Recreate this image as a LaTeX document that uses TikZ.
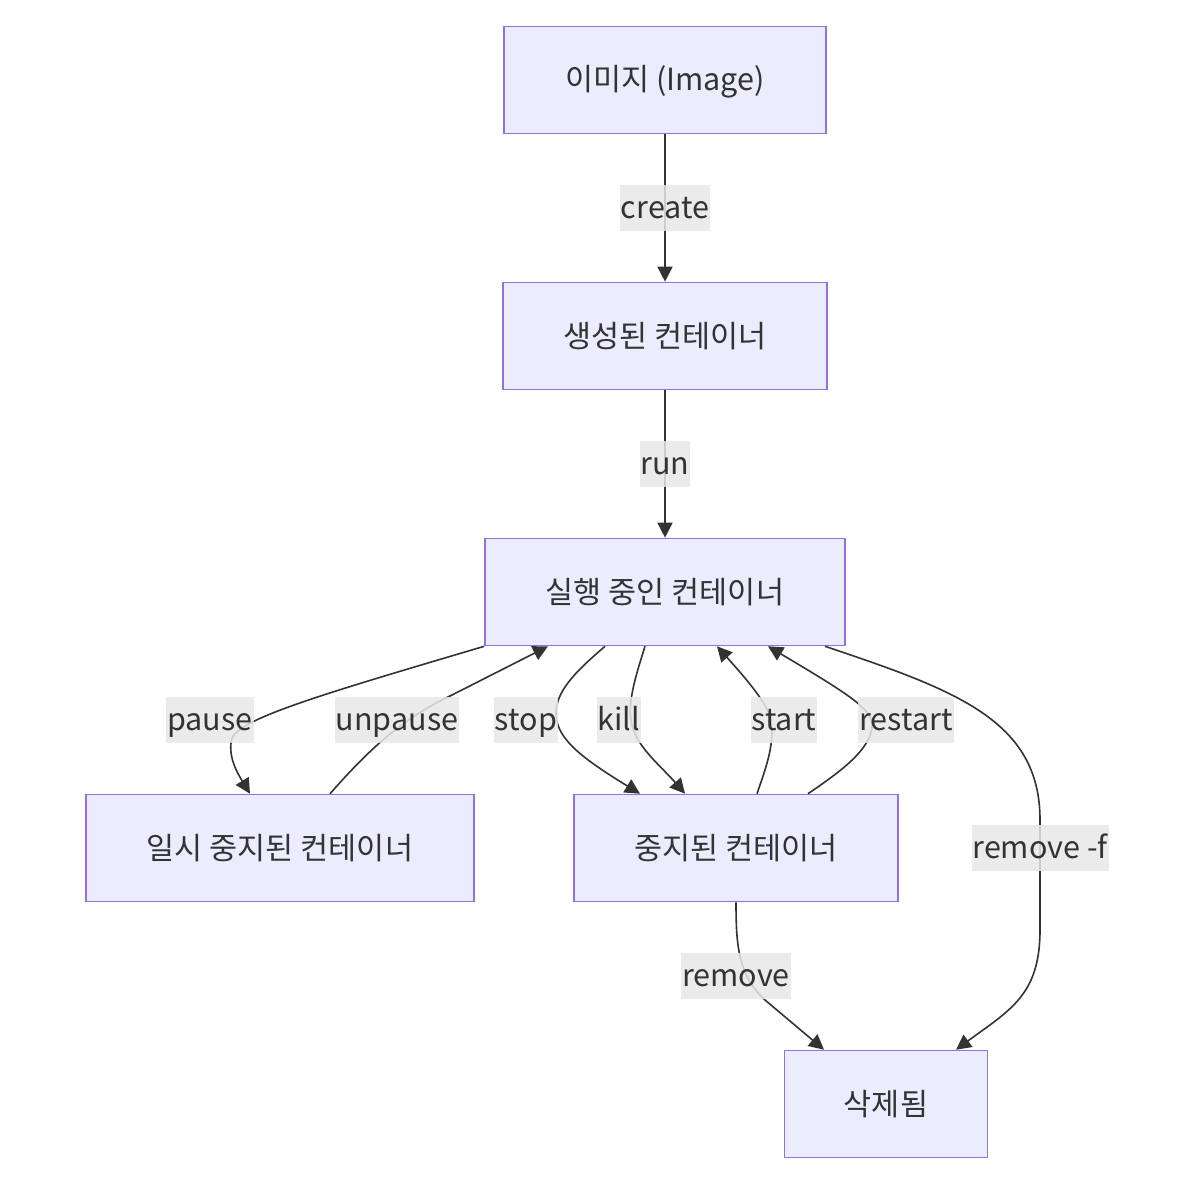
\documentclass[tikz,border=0pt]{standalone}
\usepackage{fontspec}
\setmainfont{Noto Sans CJK KR}
\usetikzlibrary{arrows.meta}
\definecolor{nodefill}{HTML}{ECECFF}
\definecolor{nodeline}{HTML}{9370DB}
\definecolor{edgecol}{HTML}{333333}
\definecolor{lblbg}{HTML}{E8E8E8}
\begin{document}
\begin{tikzpicture}[x=1pt,y=-1pt,
  statebox/.style={draw=nodeline,fill=nodefill,line width=1.6pt,minimum height=107pt,
    text=edgecol,font=\fontsize{30.5}{36}\selectfont,inner sep=0pt,
    text height=26pt,text depth=4pt},
  edge/.style={draw=edgecol,line width=1.6pt,-{Triangle[length=15pt,width=15pt]}},
  lbl/.style={fill=lblbg,fill opacity=0.85,text opacity=1,text=edgecol,
    font=\fontsize{30.5}{36}\selectfont,inner xsep=1pt,inner ysep=0pt,minimum height=46pt,
    text height=24pt,text depth=4pt}]
\useasboundingbox (0,0) rectangle (1196,1196);
\fill[white] (0,0) rectangle (1196,1196);

\node[statebox,minimum width=322pt] (img) at (665,80) {이미지 (Image)};
\node[statebox,minimum width=324pt] (gen) at (665,336) {생성된 컨테이너};
\node[statebox,minimum width=360pt] (run) at (665,592) {실행 중인 컨테이너};
\node[statebox,minimum width=388pt] (paused) at (280,848) {일시 중지된 컨테이너};
\node[statebox,minimum width=324pt] (stopped) at (736,848) {중지된 컨테이너};
\node[statebox,minimum width=203pt] (deleted) at (886,1104) {삭제됨};

% edges
\draw[edge] (img.south) -- (gen.north);
\draw[edge] (gen.south) -- (run.north);
% pause
\draw[edge] (run.south west) .. controls (330,692) and (240,718) .. (232,738)
  .. controls (227,756) and (238,774) .. ([xshift=-30pt]paused.north);
% unpause
\draw[edge] ([xshift=50pt]paused.north) .. controls (360,760) and (395,722) .. (450,696)
  -- ([xshift=-117pt]run.south);
% stop
\draw[edge] ([xshift=-60pt]run.south) .. controls (575,672) and (555,692) .. (556,715)
  .. controls (557,740) and (585,760) .. ([xshift=-96pt]stopped.north);
% kill
\draw[edge] ([xshift=-20pt]run.south) .. controls (636,675) and (628,700) .. (631,720)
  .. controls (634,745) and (660,765) .. ([xshift=-51pt]stopped.north);
% start
\draw[edge] ([xshift=21pt]stopped.north) .. controls (765,770) and (775,745) .. (771,720)
  .. controls (768,705) and (750,683) .. ([xshift=52pt]run.south);
% restart
\draw[edge] ([xshift=72pt]stopped.north) .. controls (840,772) and (870,750) .. (872,727)
  .. controls (874,710) and (850,695) .. ([xshift=103pt]run.south);
% remove -f
\draw[edge] ([xshift=160pt]run.south) .. controls (955,690) and (1040,720) .. (1040,820)
  -- (1040,930) .. controls (1040,995) and (1010,1010) .. ([xshift=70pt]deleted.north);
% remove
\draw[edge] (stopped.south) .. controls (736,945) and (738,975) .. (765,1000)
  -- ([xshift=-62pt]deleted.north);

% labels
\node[lbl] (lcreate) at (665,208) {create};
\node[lbl] (lrun) at (665,464) {run};
\node[lbl] (lpause) at (210,720) {pause};
\node[lbl] (lunpause) at (397,720) {unpause};
\node[lbl] (lstop) at (526,720) {stop};
\node[lbl] (lkill) at (619,720) {kill};
\node[lbl] (lstart) at (784,720) {start};
\node[lbl] (lrestart) at (906,720) {restart};
\node[lbl] (lremovef) at (1040,848) {remove -f};
\node[lbl] (lremove) at (736,976) {remove};
\end{tikzpicture}
\end{document}
